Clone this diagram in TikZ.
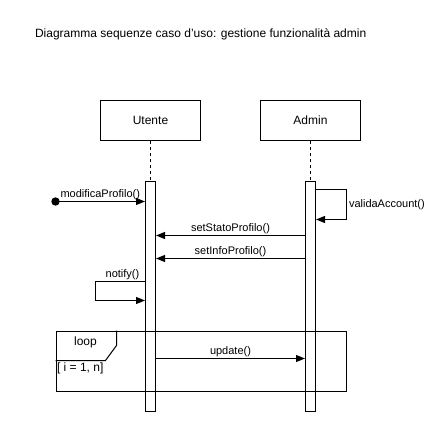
\documentclass[tikz,border=0pt]{standalone}
\usepackage{fontspec}
\setmainfont{Liberation Sans}
\usetikzlibrary{arrows.meta}
\begin{document}
\begin{tikzpicture}[x=1pt, y=-1pt, line width=1pt, >={Triangle[length=9pt, width=7pt]},
    font=\fontsize{11}{13}\selectfont,
    actor/.style={draw, minimum width=100pt, minimum height=40pt, inner sep=0pt, font=\fontsize{12}{14}\selectfont},
    bar/.style={draw, fill=white, minimum width=10pt, minimum height=230pt, inner sep=0pt},
    lifeline/.style={dashed, dash pattern=on 3pt off 3pt},
    msg/.style={inner sep=1.5pt}]
    \useasboundingbox (-0.5,-0.5) rectangle (444.5,430.5);
    % Nodes
    \node[anchor=west, inner sep=0pt, font=\fontsize{12}{14}\selectfont] (title) at (34,34) {Diagramma sequenze caso d'uso: gestione funzionalità admin};
    \node[actor] (utente) at (150,120) {Utente};
    \node[actor] (admin) at (310,120) {Admin};
    \node[bar, anchor=north] (ubar) at (150,180) {};
    \node[bar, anchor=north] (abar) at (310,180) {};
    \node[draw, anchor=north west, minimum width=290pt, minimum height=60pt, inner sep=0pt] (frame) at (55,330) {};
    \coordinate (start) at (55,201);

    % Lifelines
    \draw[lifeline] (utente.south) -- (ubar.north);
    \draw[lifeline] (admin.south) -- (abar.north);

    % Loop tab
    \draw (frame.north west) ++(61,0) coordinate (tabtop) -- ++(0,15) -- ++(-11,15) coordinate (tabcut) -- (frame.west |- tabcut);
    \node[font=\fontsize{12}{14}\selectfont] (looplbl) at (85,342) {loop};
    \node[anchor=west, inner sep=0pt, font=\fontsize{12}{14}\selectfont] (guard) at (56,368) {[ i = 1, n]};

    % Arrows
    \fill (start) circle (4.2pt);
    \draw[->] (start) -- node[msg, above] {modificaProfilo()} (ubar.west |- start);
    \draw[->] (abar.east |- 0,189) -- ++(30,0) -- ++(0,30) node[msg, anchor=west, pos=0.5, xshift=1pt] {validaAccount()} -- (abar.east |- 0,219);
    \draw[->] (abar.west |- 0,235) -- node[msg, above] {setStatoProfilo()} (ubar.east |- 0,235);
    \draw[->] (abar.west |- 0,258) -- node[msg, above] {setInfoProfilo()} (ubar.east |- 0,258);
    \draw[->] (ubar.west |- 0,281) -- ++(-50,0) node[msg, above, pos=0.45] {notify()} -- ++(0,19) -- (ubar.west |- 0,300);
    \draw[->] (ubar.east |- 0,358) -- node[msg, above] {update()} (abar.west |- 0,358);
\end{tikzpicture}
\end{document}
